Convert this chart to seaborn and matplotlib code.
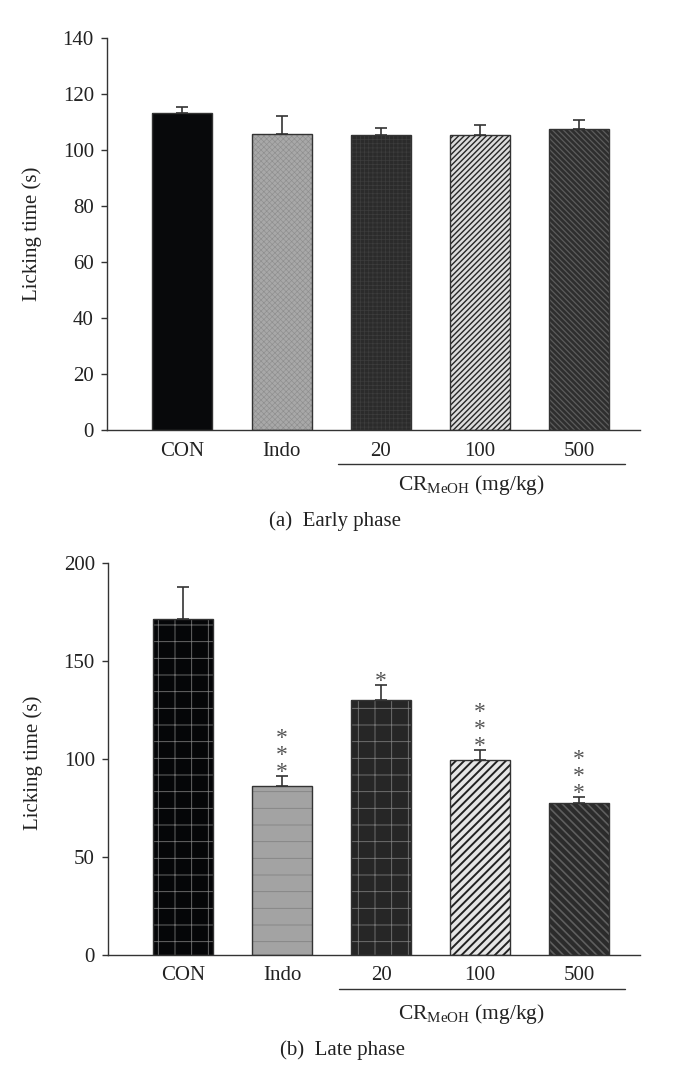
import numpy as np
import pandas as pd
import matplotlib
matplotlib.use("Agg")
import matplotlib.pyplot as plt
from matplotlib.patches import Rectangle
import seaborn as sns

# ---------------- data ----------------
categories = ["CON", "Indo", "20", "100", "500"]
early_mean = [113.1, 105.6, 105.4, 105.4, 107.6]
early_sem = [2.4, 6.7, 2.6, 3.6, 3.2]
late_mean = [171.2, 86.3, 130.0, 99.4, 77.3]
late_sem = [16.5, 5.1, 7.6, 5.1, 3.2]
late_sig = ["", "***", "*", "***", "***"]
group_label = r"CR$_{\mathrm{MeOH}}$ (mg/kg)"
ylabel = "Licking time (s)"
captions = ["(a)  Early phase", "(b)  Late phase"]
early_yticks = [0, 20, 40, 60, 80, 100, 120, 140]
late_yticks = [0, 50, 100, 150, 200]

# ---------------- style ----------------
sns.set_style("ticks")
plt.rcParams["font.family"] = ["Liberation Serif", "DejaVu Serif"]
plt.rcParams["mathtext.fontset"] = "custom"
plt.rcParams["mathtext.rm"] = "Liberation Serif"
plt.rcParams["mathtext.it"] = "Liberation Serif:italic"
plt.rcParams["hatch.linewidth"] = 0.7

FS = 15
INK = "#333333"
TXT = "#222222"

early_face = ["#08090b", "#a8a8a8", "#2b2b2b", "#dcdcdc", "#2e2e2e"]
early_hatch = [None, "xxxxxx", "++++", "//////", "\\\\\\\\\\\\"]
early_hcol = [None, "#8e8e8e", "#3d3d3d", "#262626", "#5c5c5c"]
early_hlw = [0.5, 0.45, 0.5, 1.0, 0.9]

late_face = ["#050608", "#a3a3a3", "#262626", "#e6e6e6", "#2b2b2b"]
late_hatch = ["+", "-", "+", "////", "\\\\\\\\"]
late_hcol = ["#777777", "#828282", "#7a7a7a", "#222222", "#5e5e5e"]
late_hlw = [0.6, 0.6, 0.6, 1.4, 1.2]

fig = plt.figure(figsize=(6.84, 10.74), dpi=100)
ax1 = fig.add_axes([107 / 684, 1 - 430 / 1074, 533 / 684, 392 / 1074])
ax2 = fig.add_axes([108 / 684, 1 - 955 / 1074, 532 / 684, 392.4 / 1074])


def panel(ax, means, sems, faces, hatches, hcols, hlws, ymax, yticks, sig=None,
          label_pad=8.0, ylab_y=0.5):
    df = pd.DataFrame({"cat": categories, "val": means})
    sns.barplot(data=df, x="cat", y="val", hue="cat", palette=faces,
                order=categories, hue_order=categories, width=0.605,
                saturation=1, errorbar=None, legend=False, ax=ax, zorder=2)
    bars = sorted(ax.patches, key=lambda p: p.get_x())
    for p, h, hc, hl in zip(bars, hatches, hcols, hlws):
        p.set_linewidth(0)
        if h:
            p.set_hatch(h)
            p.set_edgecolor(hc)
            try:
                p.set_hatch_linewidth(hl)
            except AttributeError:
                pass
        else:
            p.set_edgecolor(p.get_facecolor())
        ax.add_patch(Rectangle((p.get_x(), p.get_y()), p.get_width(), p.get_height(),
                               fill=False, edgecolor=INK, linewidth=1.0, zorder=3))
    xs = np.arange(len(categories))
    ax.errorbar(xs, means, yerr=[np.zeros(len(sems)), sems], fmt="none",
                ecolor=INK, elinewidth=1.2, capsize=4, capthick=1.2, zorder=1)
    if sig is not None:
        for x, m, s, txt in zip(xs, means, sems, sig):
            if not txt:
                continue
            ax.annotate("\n".join(list(txt)), xy=(x, m + s), xytext=(0, -5),
                        textcoords="offset points", ha="center", va="bottom",
                        fontsize=17, color="#555555", linespacing=0.74,
                        family=["Liberation Serif"])
    ax.set_xlim(-0.761, 4.615)
    ax.set_ylim(0, ymax)
    ax.set_yticks(yticks)
    ax.set_xlabel("")
    ax.set_ylabel(ylabel, fontsize=FS, color=TXT)
    ax.yaxis.set_label_coords(-0.122, ylab_y)
    sns.despine(ax=ax)
    for sp in ["left", "bottom"]:
        ax.spines[sp].set_color(INK)
        ax.spines[sp].set_linewidth(1.0)
    ax.tick_params(axis="y", direction="out", length=4, width=1.0, color=INK,
                   labelsize=FS, labelcolor=TXT, pad=5.5)
    ax.tick_params(axis="x", length=0, labelsize=FS, labelcolor=TXT, pad=label_pad)
    # group bracket line
    tr = ax.get_xaxis_transform()
    ax.plot([1.57, 4.46], [-34 / 392, -34 / 392], color=INK, lw=1.0,
            transform=tr, clip_on=False)
    return ax


panel(ax1, early_mean, early_sem, early_face, early_hatch, early_hcol, early_hlw,
      140, early_yticks, label_pad=8.3, ylab_y=0.5)
ax1.text(2.91, -55 / 392, group_label, transform=ax1.get_xaxis_transform(),
         ha="center", va="center", fontsize=FS + 0.5, color=TXT)

panel(ax2, late_mean, late_sem, late_face, late_hatch, late_hcol, late_hlw,
      200, late_yticks, sig=late_sig, label_pad=7.8, ylab_y=0.49)
ax2.text(2.91, -59 / 392.4, group_label, transform=ax2.get_xaxis_transform(),
         ha="center", va="center", fontsize=FS + 0.5, color=TXT)

fig.text(335 / 684, 1 - 521 / 1074, captions[0], ha="center", va="center",
         fontsize=FS, color=TXT)
fig.text(342 / 684, 1 - 1050 / 1074, captions[1], ha="center", va="center",
         fontsize=FS, color=TXT)

fig.savefig("out.png", dpi=100)
